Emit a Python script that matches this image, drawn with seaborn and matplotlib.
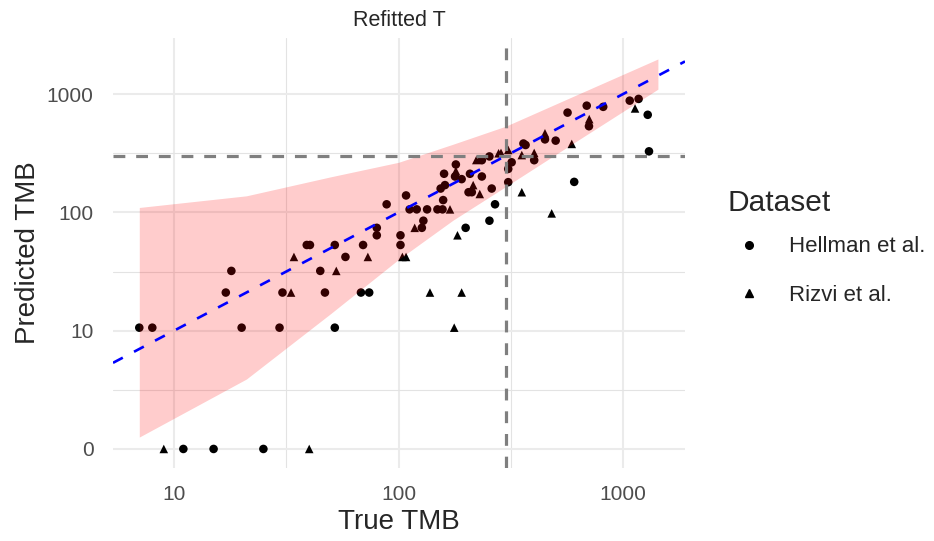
import numpy as np
import pandas as pd
import seaborn as sns
import matplotlib
matplotlib.use("Agg")
import matplotlib.pyplot as plt
from matplotlib.lines import Line2D
from matplotlib.ticker import FixedLocator, NullFormatter

# values (true TMB, predicted TMB)
hellman_true = [7.0, 8.0, 11, 15, 25, 18, 17, 20, 29.5, 30.4, 39, 40.3, 44.8, 47, 52, 52, 58,
                68, 74, 69.5, 80, 80, 88.5, 102, 102, 108, 112, 120.5, 127, 129, 134, 149,
                157, 158, 154, 161, 159.5, 180, 178.5, 191, 205, 212, 208, 235, 260, 235,
                254, 269, 254, 199, 319, 308, 308, 360, 368, 402, 449, 501, 566, 606, 689,
                705, 816, 1071, 1173, 1288, 1305]
hellman_pred = [10.6, 10.6, 0, 0, 0, 32, 21, 10.6, 10.6, 21, 53, 53, 32, 21, 10.6, 53, 42,
                21, 21, 53, 74, 64, 117, 64, 53, 139, 106, 106, 74, 85, 106, 106,
                106, 127, 159, 170, 212, 254, 201, 191, 148, 148, 212, 201, 159, 276,
                297, 117, 85, 74, 265, 233, 180, 382, 371, 276, 414, 404, 697, 181, 798,
                535, 780, 880, 910, 668, 328]

rizvi_true = [9, 40, 33.2, 34.2, 52.8, 73, 104, 108, 118, 169.5, 180, 215, 230, 222, 183,
              279, 286, 308, 354, 354, 402, 449, 591, 481, 707, 1131, 138, 191, 177]
rizvi_pred = [0, 0, 21, 42, 32, 42, 42, 42, 74, 106, 224, 170, 143, 277, 64,
              316, 318, 337, 305, 148, 318, 466, 379, 98, 614, 756, 21, 21, 10.6]

# confidence band
band_x = [7, 21, 50, 100, 175, 300, 600, 1430]
band_lo = [1.26, 3.9, 14, 40, 86, 165, 384, 1100]
band_hi = [110, 138, 200, 265, 377, 535, 957, 1980]

threshold = 300

df = pd.DataFrame({
    "true": hellman_true + rizvi_true,
    "pred": hellman_pred + rizvi_pred,
    "Dataset": ["Hellman et al."] * len(hellman_true) + ["Rizvi et al."] * len(rizvi_true),
})


# log axis where 0 sits at the 1 position
def fwd(v):
    v = np.asarray(v, dtype=float)
    return np.where(v >= 1, np.log10(np.maximum(v, 1)), np.minimum(v, 0))


def inv(t):
    t = np.asarray(t, dtype=float)
    return np.where(t > 0, 10 ** np.maximum(t, 0), t)


sns.set_style("white")
plt.rcParams["font.family"] = ["Liberation Sans", "DejaVu Sans"]

fig = plt.figure(figsize=(9.34, 5.41), dpi=100)
ax = fig.add_axes([113 / 934, 73 / 541, 572 / 934, 430 / 541])

ax.set_xscale("log")
ax.set_yscale("function", functions=(fwd, inv))

sns.scatterplot(data=df, x="true", y="pred", style="Dataset",
                markers={"Hellman et al.": "o", "Rizvi et al.": "^"},
                color="black", s=38, linewidth=0, legend=False, ax=ax, zorder=2)

ax.fill_between(band_x, band_lo, band_hi, color="red", alpha=0.2, lw=0, zorder=3)

ax.axhline(threshold, color="#7f7f7f", lw=2.3, ls=(0, (3.7, 3.4)), zorder=4)
ax.axvline(threshold, color="#7f7f7f", lw=2.3, ls=(0, (3.7, 3.4)), zorder=4)
ax.axline((10, 10), (1000, 1000), color="blue", lw=1.9, ls=(0, (4.2, 4.8)), zorder=5)

ax.set_xlim(10 ** 0.728, 10 ** 3.276)
ax.set_ylim(float(inv(-0.161)), float(inv(3.474)))

ax.set_xticks([10, 100, 1000])
ax.set_xticklabels(["10", "100", "1000"])
ax.xaxis.set_minor_locator(FixedLocator([10 ** 1.5, 10 ** 2.5]))
ax.xaxis.set_minor_formatter(NullFormatter())
ax.set_yticks([0, 10, 100, 1000])
ax.set_yticklabels(["0", "10", "100", "1000"])
ax.yaxis.set_minor_locator(FixedLocator([10 ** 0.5, 10 ** 1.5, 10 ** 2.5]))
ax.yaxis.set_minor_formatter(NullFormatter())

ax.grid(which="major", color="#EBEBEB", lw=1.5, zorder=0)
ax.grid(which="minor", color="#E3E3E3", lw=0.8, zorder=0)
ax.set_axisbelow(True)
ax.tick_params(which="both", length=0, labelsize=15, labelcolor="#4D4D4D")
ax.tick_params(axis="x", pad=12)
ax.tick_params(axis="y", pad=14)
for s in ax.spines.values():
    s.set_visible(False)

ax.set_xlabel("True TMB", fontsize=20, labelpad=4)
ax.set_ylabel("Predicted TMB", fontsize=20, labelpad=4)
ax.set_title("Refitted T", fontsize=15.5, pad=9)

handles = [
    Line2D([], [], marker="o", ls="", color="black", markersize=5.5),
    Line2D([], [], marker="^", ls="", color="black", markersize=6),
]
leg = fig.legend(handles, ["Hellman et al.", "Rizvi et al."], title="Dataset",
                 loc="upper left", bbox_to_anchor=(727 / 934, 1 - 189 / 541),
                 frameon=False, fontsize=16, title_fontsize=21.5,
                 handlelength=2.0, handletextpad=0.8, labelspacing=1.25,
                 borderpad=0, borderaxespad=0)
leg._legend_box.align = "left"
leg._legend_box.sep = 14

fig.savefig("out.png", dpi=100)
